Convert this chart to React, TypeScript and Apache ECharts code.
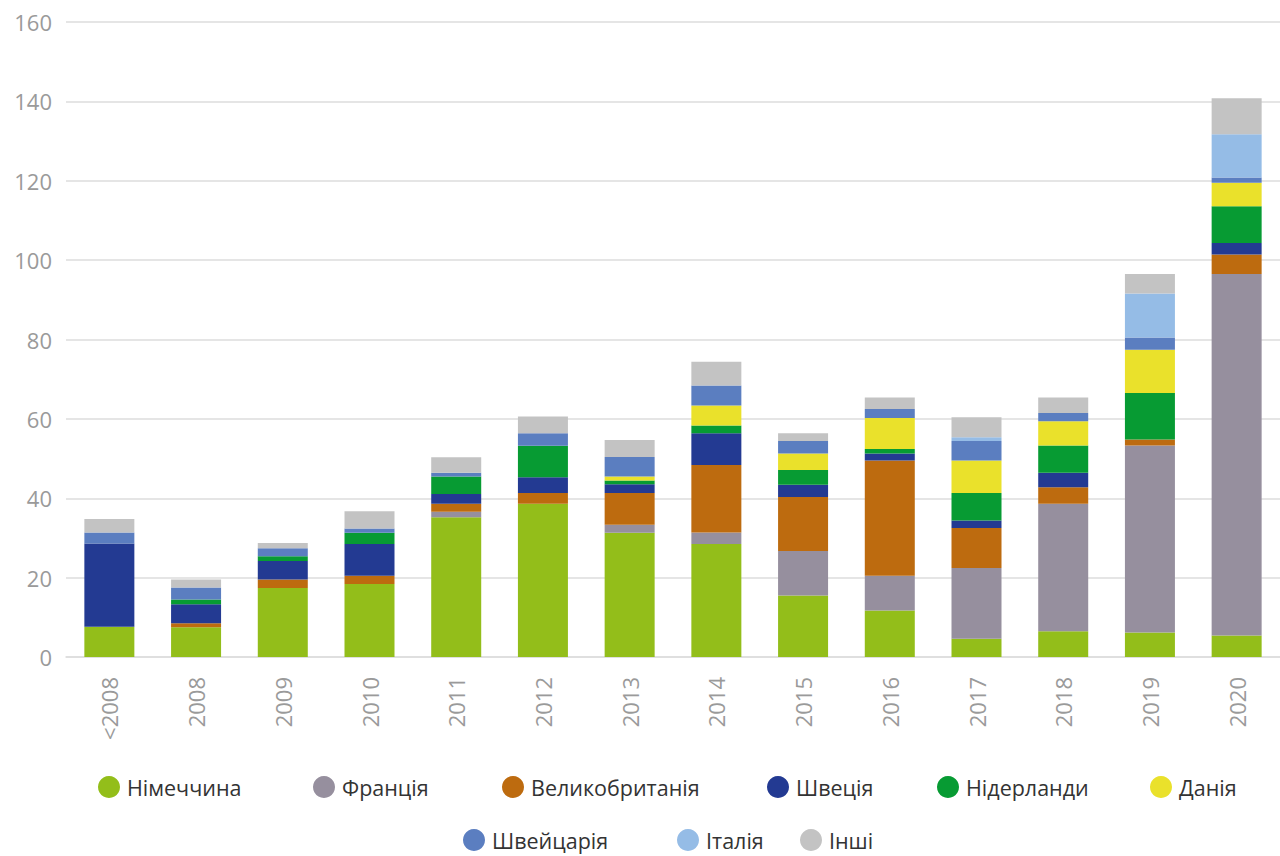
import React, { useEffect, useRef } from "react";
import * as echarts from "echarts";

const categories = ["<2008", "2008", "2009", "2010", "2011", "2012", "2013", "2014", "2015", "2016", "2017", "2018", "2019", "2020"];
const yTicks = [0, 20, 40, 60, 80, 100, 120, 140, 160];

const seriesNames = ["Німеччина", "Франція", "Великобританія", "Швеція", "Нідерланди", "Данія", "Швейцарія", "Італія", "Інші"];
const seriesColors = ["#93BE1A", "#968F9E", "#BD6B0F", "#233A92", "#079B33", "#EAE12B", "#5B7EC0", "#95BCE6", "#C3C3C3"];

const germany = [7.6, 7.5, 17.4, 18.4, 35.2, 38.6, 31.3, 28.5, 15.5, 11.7, 4.6, 6.5, 6.2, 5.4];
const france = [0, 0, 0, 0, 1.4, 0, 2, 2.9, 11.2, 8.8, 17.8, 32.1, 47.1, 91.1];
const uk = [0, 1, 2.1, 2.1, 2, 2.7, 8, 17, 13.6, 29, 10.1, 4.2, 1.5, 4.9];
const sweden = [21, 4.8, 4.7, 8, 2.5, 4, 2.2, 8, 3.1, 1.8, 1.9, 3.6, 0, 2.9];
const netherlands = [0, 1.2, 1.2, 2.8, 4.4, 7.9, 1, 1.9, 3.7, 1.1, 6.9, 6.9, 11.7, 9.3];
const denmark = [0, 0, 0, 0, 0, 0, 1, 5.1, 4.2, 7.8, 8.2, 6.1, 10.9, 5.9];
const switzerland = [2.8, 3, 2, 1.1, 0.9, 3.2, 4.9, 5, 3.1, 2.3, 4.9, 2.1, 3.1, 1.3];
const italy = [0, 0, 0, 0, 0, 0, 0, 0, 0, 0, 1, 0, 11.1, 10.9];
const others = [3.4, 2, 1.3, 4.3, 3.9, 4.2, 4.3, 6, 2, 2.9, 5, 3.9, 4.9, 9.1];

const seriesData = [germany, france, uk, sweden, netherlands, denmark, switzerland, italy, others];

// legend layout: [left, top]
const legendPos: [number, number][] = [
  [98, 776], [313, 776], [502, 776], [767, 776], [937, 776], [1150, 776],
  [463, 829], [677, 829], [800, 829],
];

export default function App() {
  const ref = useRef<HTMLDivElement>(null);
  useEffect(() => {
    if (!ref.current) return;
    const chart = echarts.init(ref.current, undefined, { renderer: "svg" });
    const option: any = {
      animation: false,
      backgroundColor: "#ffffff",
      grid: { left: 66, right: -10, top: 22, bottom: 199, containLabel: false },
      xAxis: {
        type: "category",
        data: categories,
        axisLine: { show: true, lineStyle: { color: "#dddddd", width: 1.5 } },
        axisTick: { show: false },
        axisLabel: {
          rotate: 90,
          margin: 20,
          color: "#9a9a9a",
          fontSize: 22,
          fontFamily: "Open Sans",
          interval: 0,
        },
      },
      yAxis: {
        type: "value",
        min: 0,
        max: 160,
        interval: 20,
        axisLine: { show: false },
        axisTick: { show: false },
        splitLine: { lineStyle: { color: "#dcdcdc", width: 1.5 } },
        axisLabel: {
          margin: 14,
          color: "#9a9a9a",
          fontSize: 22,
          fontFamily: "Open Sans",
          formatter: (v: number) => (yTicks.includes(v) ? String(v) : ""),
        },
      },
      legend: seriesNames.map((name, i) => ({
        left: legendPos[i][0],
        top: legendPos[i][1],
        padding: 0,
        data: [name],
        icon: "circle",
        itemWidth: 22,
        itemHeight: 22,
        selectedMode: false,
        textStyle: { color: "#333333", fontSize: 21.5, fontFamily: "Open Sans", padding: [0, 0, 0, 2] },
      })),
      series: seriesNames.map((name, i) => ({
        name,
        type: "bar",
        stack: "total",
        barWidth: 50,
        data: seriesData[i],
        itemStyle: { color: seriesColors[i] },
        emphasis: { disabled: true },
      })),
    };
    chart.setOption(option);
    return () => chart.dispose();
  }, []);
  return <div ref={ref} style={{ position: "absolute", left: 0, top: 0, width: 1280, height: 856 }} />;
}
